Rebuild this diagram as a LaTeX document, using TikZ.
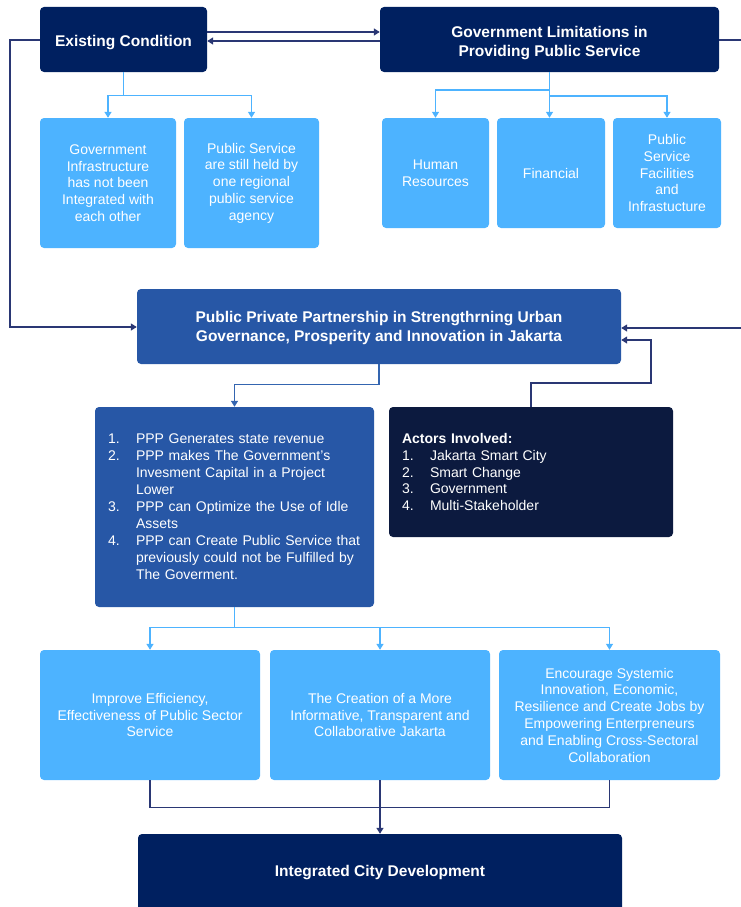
\documentclass[tikz,border=0pt]{standalone}
\usepackage{fontspec}
\setmainfont{Liberation Sans}
\usetikzlibrary{arrows.meta}

\definecolor{navy}{HTML}{002060}
\definecolor{deepnavy}{HTML}{0C1A3F}
\definecolor{midblue}{HTML}{2757A6}
\definecolor{skyblue}{HTML}{4DB3FF}
\definecolor{linkdark}{HTML}{2A3774}
\definecolor{linkmid}{HTML}{3465B0}

% one list entry: fixed-width number, then an unbreakable line
\newcommand\listline[2]{\makebox[28pt][l]{#1}\mbox{#2}}
% centred lines drawn a little lower, the box keeping its own size
\newcommand\lowered[2]{\raisebox{-#1}[\height][\depth]{\begin{tabular}{@{}c@{}}#2\end{tabular}}}

\begin{document}
\begin{tikzpicture}[x=1pt,y=-1pt,
  card/.style={rounded corners=4pt, inner sep=0pt, align=center, text=white,
    font=\fontsize{14}{16.8}\selectfont},
  titlecard/.style={card, fill=navy, font=\bfseries\fontsize{15.5}{19}\selectfont},
  lightcard/.style={card, fill=skyblue},
  listcard/.style={card, align=left, inner xsep=13pt, font=\fontsize{14}{17}\selectfont},
  tip/.style={-{Triangle[width=7pt,length=6pt]}},
  darklink/.style={draw=linkdark, line width=1.3pt},
  midlink/.style={draw=linkmid, line width=1.3pt},
  lightlink/.style={draw=skyblue, line width=1.3pt},
]
\useasboundingbox (0,0) rectangle (740,907);

% ---- top row ----
\node[titlecard, minimum width=167pt, minimum height=65pt] (EC) at (123.5,39.5) {\lowered{3pt}{Existing Condition}};
\node[titlecard, minimum width=339pt, minimum height=65pt] (GL) at (549.5,39.5) {\lowered{4pt}{Government Limitations in\\Providing Public Service}};

\node[lightcard, minimum width=136pt, minimum height=130pt] (EC1) at (108,183)
  {Government\\Infrastructure\\has not been\\Integrated with\\each other};
\node[lightcard, minimum width=135pt, minimum height=130pt] (EC2) at (251.5,183)
  {Public Service\\are still held by\\one regional\\public service\\agency};

\node[lightcard, minimum width=107pt, minimum height=110pt] (HR) at (435.5,173) {Human\\Resources};
\node[lightcard, minimum width=108pt, minimum height=110pt] (FIN) at (551,173) {Financial};
\node[lightcard, minimum width=108pt, minimum height=110pt] (PSF) at (667,173)
  {Public\\Service\\Facilities\\and\\Infrastucture};

% ---- partnership ----
\node[titlecard, fill=midblue, minimum width=484pt, minimum height=75pt] (PPP) at (379,326.5)
  {\lowered{1.5pt}{Public Private Partnership in Strengthrning Urban\\Governance, Prosperity and Innovation in Jakarta}};

\node[listcard, fill=midblue, text width=253pt, minimum height=200pt] (LIST) at (234.5,507)
  {\listline{1.}{PPP Generates state revenue}\\
   \listline{2.}{PPP makes The Government’s}\\
   \listline{}{Invesment Capital in a Project}\\
   \listline{}{Lower}\\
   \listline{3.}{PPP can Optimize the Use of Idle}\\
   \listline{}{Assets}\\
   \listline{4.}{PPP can Create Public Service that}\\
   \listline{}{previously could not be Fulfilled by}\\
   \listline{}{The Goverment.}};

\node[listcard, fill=deepnavy, text width=258pt, minimum height=130pt,
      font=\fontsize{14}{16.8}\selectfont] (ACT) at (531,472)
  {\mbox{\textbf{Actors Involved:}}\\
   \listline{1.}{Jakarta Smart City}\\
   \listline{2.}{Smart Change}\\
   \listline{3.}{Government}\\
   \listline{4.}{Multi-Stakeholder}};

% ---- outcomes ----
\node[lightcard, minimum width=220pt, minimum height=130pt] (OUT1) at (150,715)
  {Improve Efficiency,\\Effectiveness of Public Sector\\Service};
\node[lightcard, minimum width=220pt, minimum height=130pt] (OUT2) at (380,715)
  {The Creation of a More\\Informative, Transparent and\\Collaborative Jakarta};
\node[lightcard, minimum width=221pt, minimum height=130pt] (OUT3) at (609.5,715)
  {Encourage Systemic\\Innovation, Economic,\\Resilience and Create Jobs by\\Empowering Enterpreneurs\\and Enabling Cross-Sectoral\\Collaboration};

\node[titlecard, minimum width=484pt, minimum height=78pt] (ICD) at (380,873) {Integrated City Development};

% ---- connectors ----
\draw[darklink, tip] (EC.east |- 0,32) -- (GL.west |- 0,32);
\draw[darklink, tip] (GL.west |- 0,41) -- (EC.east |- 0,41);
\draw[darklink, tip] (EC.west |- 0,40) -- (10,40) |- (PPP.west |- 0,327);
\coordinate (rightrail) at (752,40);
\draw[darklink, tip] (GL.east |- 0,40) -- (rightrail) |- (PPP.east |- 0,328);

\draw[lightlink] (EC.south) -- ++(0,23) coordinate (ecj);
\draw[lightlink, tip] (ecj) -| (EC1.north);
\draw[lightlink, tip] (ecj) -| (EC2.north);

\draw[lightlink, tip] (GL.south) -- (GL.south |- FIN.north);
\draw[lightlink, tip] (GL.south |- 0,90) -| (HR.north);
\draw[lightlink, tip] (GL.south |- 0,96) -| (PSF.north);

\draw[midlink, tip] (PPP.south) -- ++(0,20) -| (LIST.north);
\draw[darklink, tip] (ACT.north) -- (ACT.north |- 0,383) -| (651,340) -- (PPP.east |- 0,340);

\draw[lightlink] (LIST.south) -- ++(0,20) coordinate (lj);
\draw[lightlink, tip] (lj) -| (OUT1.north);
\draw[lightlink, tip] (lj) -| (OUT2.north);
\draw[lightlink, tip] (lj) -| (OUT3.north);

\draw[darklink] (OUT1.south) -- ++(0,27) -| (OUT3.south);
\draw[darklink, tip] (OUT2.south) -- (ICD.north);
\end{tikzpicture}
\end{document}
